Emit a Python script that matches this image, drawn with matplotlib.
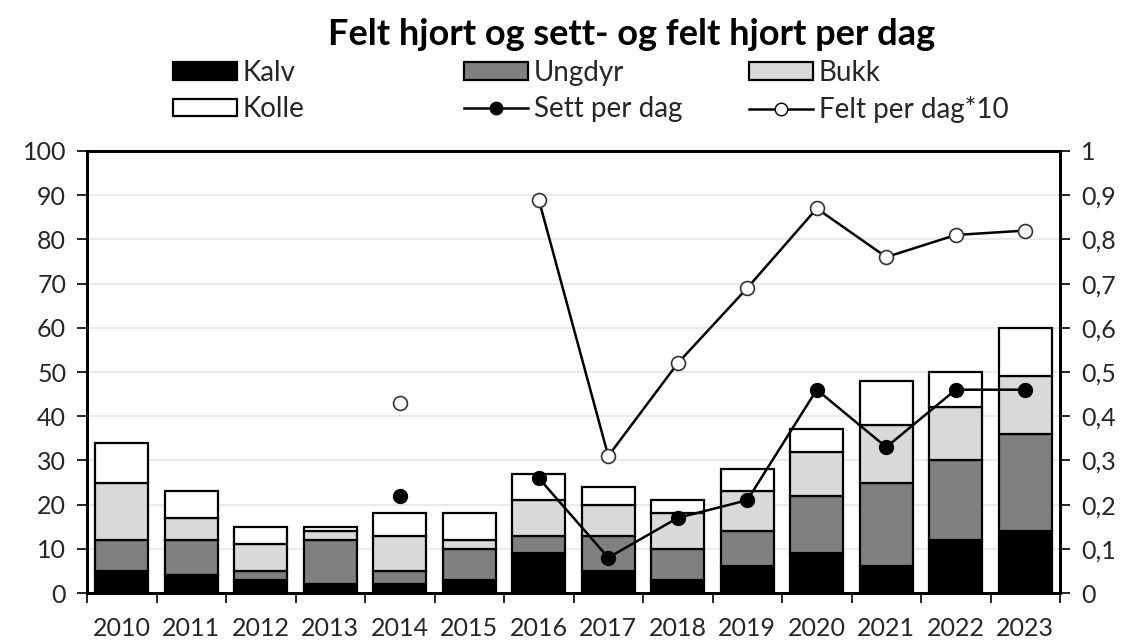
import numpy as np
import matplotlib
matplotlib.use("Agg")
import matplotlib.pyplot as plt
from matplotlib.patches import Patch
from matplotlib.lines import Line2D
from matplotlib.ticker import FuncFormatter, MultipleLocator

years = [2010, 2011, 2012, 2013, 2014, 2015, 2016, 2017, 2018, 2019, 2020, 2021, 2022, 2023]
kalv = [5, 4, 3, 2, 2, 3, 9, 5, 3, 6, 9, 6, 12, 14]
ungdyr = [7, 8, 2, 10, 3, 7, 4, 8, 7, 8, 13, 19, 18, 22]
bukk = [13, 5, 6, 2, 8, 2, 8, 7, 8, 9, 10, 13, 12, 13]
kolle = [9, 6, 4, 1, 5, 6, 6, 4, 3, 5, 5, 10, 8, 11]
sett_per_dag = [np.nan, np.nan, np.nan, np.nan, 0.22, np.nan, 0.26, 0.08, 0.17, 0.21, 0.46, 0.33, 0.46, 0.46]
felt_per_dag10 = [np.nan, np.nan, np.nan, np.nan, 0.43, np.nan, 0.89, 0.31, 0.52, 0.69, 0.87, 0.76, 0.81, 0.82]

plt.rcParams['font.family'] = ['Lato', 'DejaVu Sans']
txtc = '#262626'

fig = plt.figure(figsize=(11.32, 6.42), dpi=100)
ax = fig.add_axes([0.0769, 0.0763, 0.9364 - 0.0769, 0.7648 - 0.0763])
ax2 = ax.twinx()

x = np.arange(len(years))
w = 0.76
ekw = dict(edgecolor='black', linewidth=1.6, width=w, zorder=3)
b0 = np.zeros(len(years))
series = [(kalv, 'black', 'Kalv'), (ungdyr, '#808080', 'Ungdyr'), (bukk, '#d9d9d9', 'Bukk'), (kolle, 'white', 'Kolle')]
for vals, col, lab in series:
    ax.bar(x, vals, bottom=b0, color=col, **ekw)
    b0 = b0 + np.array(vals)

ax2.plot(x, sett_per_dag, color='black', lw=1.8, marker='o', markersize=10,
         markerfacecolor='black', markeredgecolor='black', zorder=4)
ax2.plot(x, felt_per_dag10, color='black', lw=1.8, marker='o', markersize=10,
         markerfacecolor='white', markeredgecolor='#333333', markeredgewidth=1.2, zorder=4)

ax.set_xlim(-0.5, len(years) - 0.5)
ax.set_ylim(0, 100)
ax2.set_ylim(0, 1)
ax.yaxis.set_major_locator(MultipleLocator(10))
ax2.yaxis.set_major_locator(MultipleLocator(0.1))
ax2.yaxis.set_major_formatter(FuncFormatter(lambda v, p: ('%g' % round(v, 1)).replace('.', ',')))
ax.yaxis.grid(True, color='#e6e6e6', lw=1.2, zorder=0)
ax.set_axisbelow(True)

ax.set_xticks(x)
ax.set_xticklabels([str(y) for y in years])
ax.set_xticks(np.arange(-0.5, len(years)), minor=True)
ax.tick_params(axis='x', which='major', length=0, pad=17, labelsize=18, labelcolor=txtc)
ax.tick_params(axis='x', which='minor', length=7, width=1.2, direction='out')
ax.tick_params(axis='y', length=7, width=1.2, direction='out', labelsize=18, labelcolor=txtc, pad=8)
ax2.tick_params(axis='y', length=7, width=1.2, direction='out', labelsize=18, labelcolor=txtc, pad=8)

for a in (ax, ax2):
    for s in a.spines.values():
        s.set_linewidth(2.0)
        s.set_color('black')

fig.text(0.558, 0.947, 'Felt hjort og sett- og felt hjort per dag', ha='center', va='center',
         fontsize=26, fontweight='bold', color='black')

def ph(col):
    return Patch(facecolor=col, edgecolor='black', linewidth=1.6)

lkw = dict(frameon=False, fontsize=20, handlelength=2.3, handleheight=0.6,
           handletextpad=0.2, labelspacing=0.38, borderaxespad=0, borderpad=0,
           labelcolor=txtc, loc='upper left')
top = 0.907
fig.legend([ph('black'), ph('white')], ['Kalv', 'Kolle'], bbox_to_anchor=(0.153, top), **lkw)
fig.legend([ph('#808080'),
            Line2D([], [], color='black', lw=1.8, marker='o', markersize=9, markerfacecolor='black')],
           ['Ungdyr', 'Sett per dag'], bbox_to_anchor=(0.410, top), **lkw)
fig.legend([ph('#d9d9d9'),
            Line2D([], [], color='black', lw=1.8, marker='o', markersize=9, markerfacecolor='white')],
           ['Bukk', 'Felt per dag*10'], bbox_to_anchor=(0.662, top), **lkw)

fig.savefig('out.png', dpi=100)
